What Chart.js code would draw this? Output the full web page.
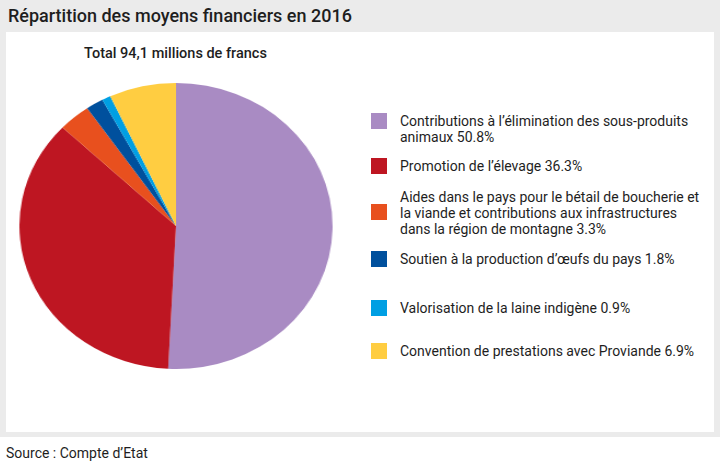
<!DOCTYPE html>
<html><head><meta charset="utf-8">
<script src="https://cdn.jsdelivr.net/npm/chart.js@4.4.1/dist/chart.umd.min.js"></script>
<style>
html,body{margin:0;padding:0;background:#fff;}
body{width:720px;height:470px;position:relative;overflow:hidden;font-family:Roboto,"Noto Sans",sans-serif;color:#1e1e1e;}
#bg{position:absolute;left:0;top:0;width:720px;height:437px;background:#ebebeb;}
#panel{position:absolute;left:6px;top:32px;width:708px;height:400px;background:#fff;}
#title{position:absolute;left:8px;top:5px;font-size:18px;font-weight:500;white-space:nowrap;}
#subtitle{position:absolute;left:0;width:351px;top:45px;text-align:center;font-size:14.5px;font-weight:500;white-space:nowrap;}
#source{position:absolute;left:6px;top:445px;font-size:14px;white-space:nowrap;}
#pieWrap{position:absolute;left:32.5px;top:82.5px;width:286px;height:286px;transform:scaleX(1.095);transform-origin:50% 50%;}
.lg-box{position:absolute;left:371px;width:16px;height:16px;}
.lg-text{position:absolute;left:400px;font-size:14px;line-height:16px;white-space:pre;}
</style></head>
<body>
<div id="bg"></div>
<div id="panel"></div>
<div id="title">Répartition des moyens financiers en 2016</div>
<div id="subtitle">Total 94,1 millions de francs</div>
<div id="pieWrap"><canvas id="pie" width="286" height="286"></canvas></div>
<div id="legend"></div>
<div id="source">Source : Compte d’Etat</div>
<script>
const categories = [
  "Contributions à l’élimination des sous-produits\nanimaux",
  "Promotion de l’élevage",
  "Aides dans le pays pour le bétail de boucherie et\nla viande et contributions aux infrastructures\ndans la région de montagne",
  "Soutien à la production d’œufs du pays",
  "Valorisation de la laine indigène",
  "Convention de prestations avec Proviande"
];
const shares = [50.8, 36.3, 3.3, 1.8, 0.9, 6.9];
const colors = ["#a98bc3", "#be1622", "#e8501e", "#00509d", "#009fe3", "#ffcd41"];

// legend layout (text top, box top)
const legendTextTops = [113, 158, 189, 251, 300, 343];
const legendBoxTops  = [113, 158, 204, 251, 300, 343];

const lg = document.getElementById('legend');
categories.forEach((c, i) => {
  const b = document.createElement('div');
  b.className = 'lg-box';
  b.style.top = legendBoxTops[i] + 'px';
  b.style.background = colors[i];
  lg.appendChild(b);
  const t = document.createElement('div');
  t.className = 'lg-text';
  t.style.top = legendTextTops[i] + 'px';
  t.textContent = c + ' ' + shares[i].toFixed(1) + '%';
  lg.appendChild(t);
});

new Chart(document.getElementById('pie'), {
  type: 'pie',
  data: {
    labels: categories,
    datasets: [{ data: shares, backgroundColor: colors, borderWidth: 0 }]
  },
  options: {
    responsive: false,
    animation: false,
    layout: { padding: 0 },
    plugins: { legend: { display: false }, tooltip: { enabled: false } }
  }
});
</script>
</body></html>
